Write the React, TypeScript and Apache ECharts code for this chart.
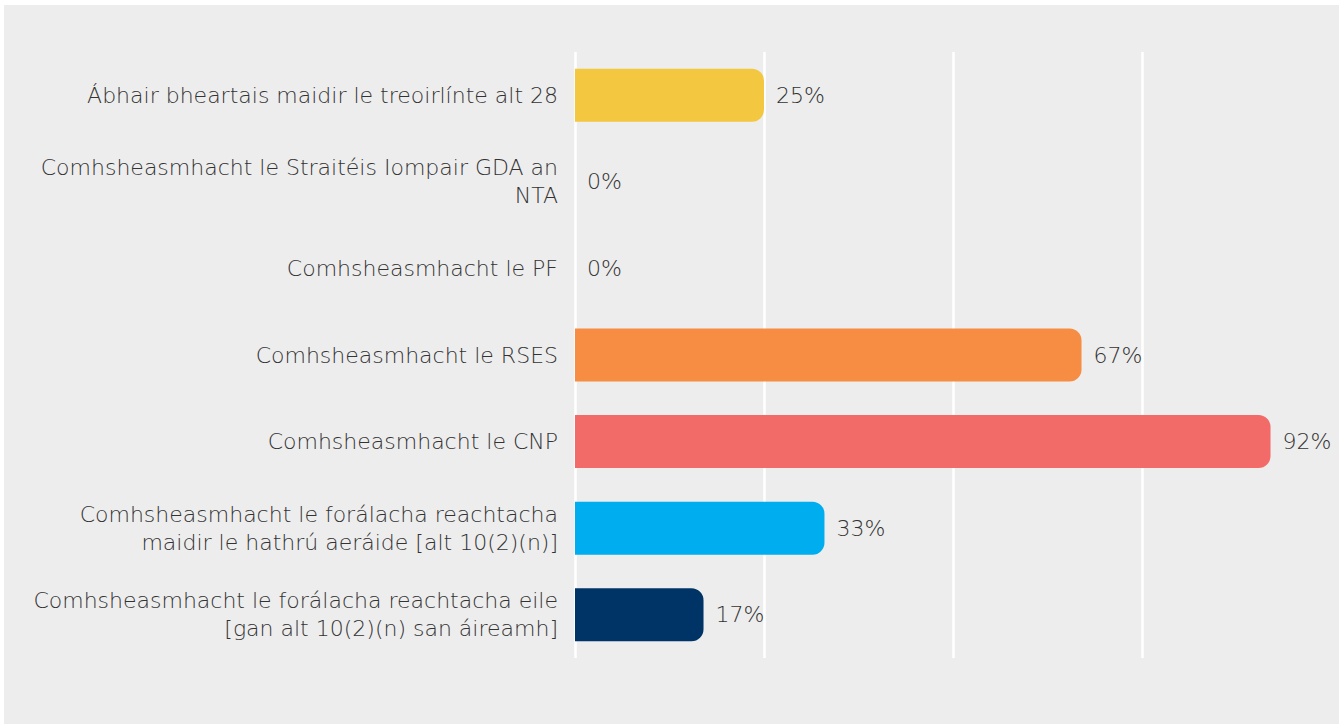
import React, { useEffect, useRef } from "react";
import * as echarts from "echarts";

const categories: string[] = [
  "Ábhair bheartais maidir le treoirlínte alt 28",
  "Comhsheasmhacht le Straitéis Iompair GDA an\nNTA",
  "Comhsheasmhacht le PF",
  "Comhsheasmhacht le RSES",
  "Comhsheasmhacht le CNP",
  "Comhsheasmhacht le forálacha reachtacha\nmaidir le hathrú aeráide [alt 10(2)(n)]",
  "Comhsheasmhacht le forálacha reachtacha eile\n[gan alt 10(2)(n) san áireamh]",
];
const values: number[] = [25, 0, 0, 67, 92, 33, 17];
const barColors: string[] = ["#F3C740", "#F3C740", "#F3C740", "#F68D42", "#F26B69", "#00AEEF", "#003466"];
const xTicks: number[] = [0, 25, 50, 75, 100];

export default function App() {
  const ref = useRef<HTMLDivElement>(null);
  useEffect(() => {
    if (!ref.current) return;
    const chart = echarts.init(ref.current, null, { renderer: "svg" });
    const font = "'DejaVu Sans', sans-serif";
    chart.setOption({
      animation: false,
      backgroundColor: "#ededed",
      grid: { left: 571, right: 8, top: 47, height: 606 },
      xAxis: {
        type: "value",
        min: xTicks[0],
        max: xTicks[xTicks.length - 1],
        interval: 25,
        axisLabel: { show: false },
        axisLine: { show: false },
        axisTick: { show: false },
        splitLine: { show: true, showMaxLine: false, lineStyle: { color: "#ffffff", width: 2.5 } },
      },
      yAxis: {
        type: "category",
        inverse: true,
        data: categories,
        axisLine: { show: false },
        axisTick: { show: false },
        axisLabel: {
          margin: 17,
          fontFamily: font,
          fontWeight: 200,
          fontSize: 22,
          lineHeight: 28,
          color: "#333333",
          align: "right",
        },
      },
      series: [
        {
          type: "bar",
          barWidth: 53,
          data: values.map((v, i) => ({ value: v, itemStyle: { color: barColors[i] } })),
          itemStyle: { borderRadius: [0, 12, 12, 0] },
          label: {
            show: true,
            position: "right",
            distance: 12,
            formatter: (p: any) => p.value + "%",
            fontFamily: font,
            fontWeight: 200,
            fontSize: 22,
            color: "#333333",
          },
        },
      ],
    });
    return () => chart.dispose();
  }, []);
  return (
    <div style={{ position: "absolute", left: 0, top: 0, width: 1341, height: 724, background: "#ffffff" }}>
      <div ref={ref} style={{ position: "absolute", left: 4, top: 5, width: 1335, height: 719 }} />
    </div>
  );
}
